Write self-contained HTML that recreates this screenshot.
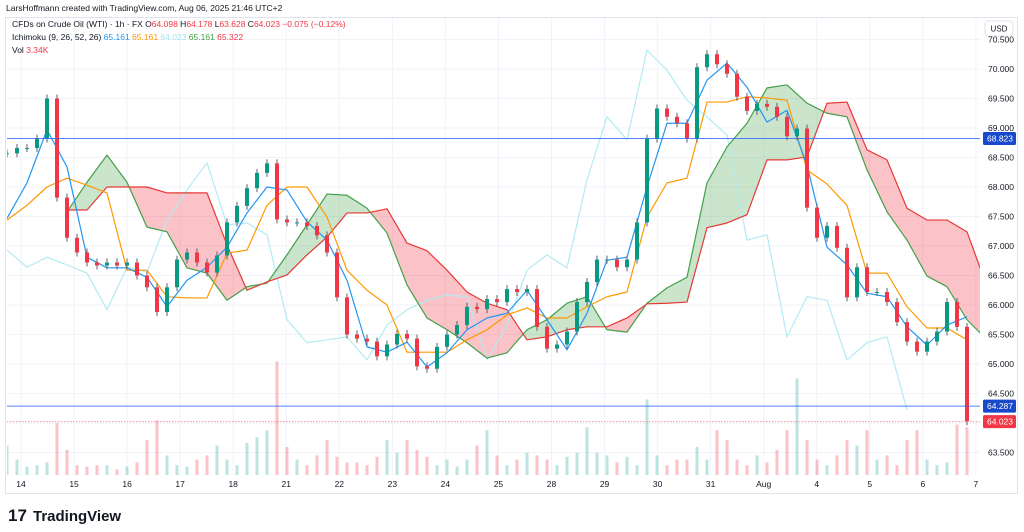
<!DOCTYPE html>
<html><head><meta charset="utf-8"><style>
html,body{margin:0;padding:0;background:#fff;}
svg{display:block;font-family:"Liberation Sans",sans-serif;}
</style></head><body>
<svg id="c" width="1024" height="532" viewBox="0 0 1024 532">
<text x="6" y="11" font-size="8.5" fill="#131722">LarsHoffmann created with TradingView.com, Aug 06, 2025 21:46 UTC+2</text>
<rect x="5.5" y="17.5" width="1012" height="476" fill="none" stroke="#e0e3eb"/>
<g id="grid"></g>
<g id="plot"></g>
<g id="axes"></g>
<g font-size="8.5">
<text x="12" y="27"><tspan fill="#131722">CFDs on Crude Oil (WTI) · 1h · FX  O</tspan><tspan fill="#f23645">64.098 </tspan><tspan fill="#131722">H</tspan><tspan fill="#f23645">64.178 </tspan><tspan fill="#131722">L</tspan><tspan fill="#f23645">63.628 </tspan><tspan fill="#131722">C</tspan><tspan fill="#f23645">64.023  −0.075 (−0.12%)</tspan></text>
<text x="12" y="40"><tspan fill="#131722">Ichimoku (9, 26, 52, 26)  </tspan><tspan fill="#2196f3">65.161  </tspan><tspan fill="#ff9800">65.161  </tspan><tspan fill="#a5e3ef">64.023  </tspan><tspan fill="#43a047">65.161  </tspan><tspan fill="#f23645">65.322</tspan></text>
<text x="12" y="53"><tspan fill="#131722">Vol  </tspan><tspan fill="#f23645">3.34K</tspan></text>
</g>
<rect x="985" y="21" width="28" height="15" rx="3" fill="#fff" stroke="#e0e3eb"/>
<text x="999" y="31.5" font-size="8" text-anchor="middle" fill="#131722">USD</text>
<g>
<text x="8" y="521" font-size="17" font-weight="bold" fill="#131722">17</text>
<text x="33" y="521" font-size="15" font-weight="bold" fill="#131722">TradingView</text>
</g>
</svg>
<script>
// ---- data ----
const closes=[68.57,68.66,68.66,68.82,69.5,67.82,67.14,66.89,66.72,66.67,66.72,66.67,66.72,66.5,66.3,65.88,66.3,66.77,66.89,66.72,66.55,66.84,67.4,67.68,67.98,68.24,68.4,67.45,67.4,67.4,67.34,67.18,66.89,66.13,65.5,65.43,65.38,65.13,65.33,65.51,65.43,64.96,64.92,65.29,65.5,65.66,65.97,65.93,66.1,66.05,66.27,66.22,66.27,65.63,65.26,65.33,65.55,66.05,66.39,66.77,66.77,66.64,66.77,67.4,68.82,69.33,69.19,69.08,68.82,70.03,70.25,70.08,69.92,69.53,69.29,69.41,69.36,69.19,68.86,68.99,67.65,67.14,67.34,66.97,66.13,66.64,66.22,66.22,66.05,65.71,65.38,65.21,65.38,65.55,66.05,65.63,64.03];
const volumes=[2.1,1.1,.6,.7,.9,3.7,1.8,.7,.6,.7,.7,.4,.6,.9,2.5,3.9,1.4,.7,.6,1.1,1.4,2.1,1.1,.7,2.3,2.7,3.2,8.1,2.0,1.1,.7,1.4,2.5,1.3,.9,.9,.7,1.3,2.5,1.6,2.5,1.8,1.3,.7,1.1,.6,1.1,2.1,3.2,1.4,.7,1.1,1.6,1.4,1.1,.7,1.3,1.6,3.4,1.6,1.4,.9,1.3,.7,5.4,1.4,.7,1.1,1.1,2.0,1.1,3.2,2.5,1.1,.7,1.4,.9,1.8,3.2,6.9,2.5,1.1,.7,1.4,2.5,2.1,3.2,1.1,1.4,.7,2.5,3.2,1.1,.7,.9,3.6,3.4];
const tenkan=[67.47,68.07,68.97,68.34,66.81,66.63,66.63,66.47,65.97,66.42,66.64,66.98,67.56,68.0,67.95,67.41,67.1,66.42,65.29,65.2,65.37,64.95,65.19,65.58,65.78,65.86,66.25,65.75,65.24,65.86,66.76,66.81,68.0,69.08,69.08,69.81,70.1,69.69,69.1,69.3,68.37,66.98,66.68,66.2,66.14,65.63,65.32,65.66,65.8];
const kijun=[67.44,67.69,68.0,68.15,68.03,67.9,66.59,66.59,66.14,66.12,66.12,66.88,66.93,67.69,68.0,68.0,67.49,66.59,66.25,66.0,65.2,65.2,65.2,65.41,65.58,65.83,65.95,65.78,65.78,65.97,66.14,66.22,67.49,68.07,68.15,69.44,69.44,69.53,69.51,69.47,68.29,68.05,67.69,66.54,66.54,65.97,65.61,65.61,65.41];
const chikou=[66.93,66.64,66.81,66.68,66.54,65.92,66.64,66.56,67.44,67.95,68.41,67.36,67.39,67.19,65.75,65.36,65.41,65.46,65.07,65.66,65.92,66.08,66.17,66.14,65.07,65.66,66.59,66.85,66.63,68.12,69.19,68.8,70.32,69.98,69.47,69.19,68.88,67.1,67.19,65.46,66.14,66.08,65.07,65.36,65.46,64.22];
const spanA=[67.58,68.08,68.54,68.08,67.32,67.24,66.63,66.54,66.08,66.31,66.37,66.85,67.36,67.88,67.86,67.64,67.22,66.34,65.78,65.58,65.36,65.1,65.19,65.58,65.75,66.03,66.14,65.58,65.54,66.03,66.29,66.47,68.07,68.68,69.08,69.68,69.73,69.42,69.25,69.19,68.29,67.58,67.1,66.49,66.31,65.75,65.41];
const spanB=[67.61,67.61,68.0,68.0,68.0,67.9,67.9,67.9,67.02,66.25,66.39,66.51,66.85,67.15,67.56,67.56,67.63,67.05,66.92,66.59,66.22,66.03,65.92,65.41,65.46,65.58,65.63,65.63,65.78,66.02,66.03,66.05,67.31,67.39,67.53,68.46,68.46,68.51,69.42,69.44,68.63,68.46,67.64,67.44,67.44,67.24,66.31];
const priceTicks=["70.500","70.000","69.500","69.000","68.500","68.000","67.500","67.000","66.500","66.000","65.500","65.000","64.500","64.000","63.500"];
const dateLabels=["14","15","16","17","18","21","22","23","24","25","28","29","30","31","Aug","4","5","6","7"];
const hLines=[{v:68.823,c:"#2962ff"},{v:64.287,c:"#2962ff"},{v:64.023,c:"#f23645"}];

// ---- axes ----
const NS="http://www.w3.org/2000/svg";
const X0=7,XR=980,Y0=18,YB=475;
const yP=p=>69+(70-p)*59;
const xBar=i=>7+i*10;
const xLine=i=>7+i*20;
const xSpan=i=>67+i*20;
const xDate=i=>21+i*53.05;
function mk(tag,attrs,parent){const e=document.createElementNS(NS,tag);for(const k in attrs)e.setAttribute(k,attrs[k]);parent.appendChild(e);return e;}
const grid=document.getElementById('grid'),plot=document.getElementById('plot'),axes=document.getElementById('axes');
const clip=mk('clipPath',{id:'clp'},document.getElementById('c'));
mk('rect',{x:X0,y:Y0,width:XR-X0,height:YB-Y0},clip);
plot.setAttribute('clip-path','url(#clp)');

priceTicks.forEach(t=>{const y=yP(parseFloat(t));
 const g=mk('line',{x1:X0,x2:XR,y1:y,y2:y,stroke:'#f0f3fa'},grid);
 
 
 const l=mk('text',{x:988,y:y+3,'font-size':8.5,fill:'#131722'},axes);l.textContent=t;
 
 });
dateLabels.forEach((t,i)=>{const x=xDate(i);
 const g=mk('line',{x1:x,x2:x,y1:Y0,y2:YB,stroke:'#f0f3fa'},grid);
 
 
 const l=mk('text',{x:x,y:487,'font-size':8.5,fill:'#131722','text-anchor':'middle'},axes);l.textContent=t;
 
 });

volumes.forEach((v,i)=>{const up=i===0||closes[i]>=closes[i-1];const h=v*14;
 const r=mk('rect',{x:xBar(i)-1.5,y:YB-h,width:3,height:h,fill:up?'rgba(38,166,154,0.3)':'rgba(242,54,69,0.3)'},plot);
 
 });

function cloudSeg(i){const x1=xSpan(i),x2=xSpan(i+1),a1=yP(spanA[i]),a2=yP(spanA[i+1]),b1=yP(spanB[i]),b2=yP(spanB[i+1]);
 const d1=a1-b1,d2=a2-b2;const col=d=>d<0?'rgba(67,160,71,0.28)':'rgba(242,54,69,0.3)';
 if(d1*d2>=0){const p=mk('polygon',{points:`${x1},${a1} ${x2},${a2} ${x2},${b2} ${x1},${b1}`,fill:col(d1+d2)},plot);
  
  }
 else{const t=d1/(d1-d2),xm=x1+t*(x2-x1),ym=a1+t*(a2-a1);
  const p1=mk('polygon',{points:`${x1},${a1} ${xm},${ym} ${x1},${b1}`,fill:col(d1)},plot);
  
  
  const p2=mk('polygon',{points:`${xm},${ym} ${x2},${a2} ${x2},${b2}`,fill:col(d2)},plot);
  
  }}
for(let i=0;i<spanA.length-1;i++)cloudSeg(i);

function line(arr,xf,color,name,w){const pts=arr.map((v,i)=>xf(i)+','+yP(v)).join(' ');
 const l=mk('polyline',{points:pts,fill:'none',stroke:color,'stroke-width':w||1.2,'stroke-linejoin':'round'},plot);
 
 }
line(chikou,xLine,'#b2ebf2','chikou-span-line');
line(spanA,xSpan,'#43a047','senkou-span-a-line');
line(spanB,xSpan,'#e53935','senkou-span-b-line');
line(kijun,xLine,'#ff9800','kijun-sen-line');
line(tenkan,xLine,'#2196f3','tenkan-sen-line');

closes.forEach((c,i)=>{const o=i?closes[i-1]:c;const up=c>=o;const col=up?'#089981':'#f23645';
 const yt=yP(Math.max(o,c)),yb=yP(Math.min(o,c));
 const w=mk('line',{x1:xBar(i),x2:xBar(i),y1:yt-4,y2:yb+4,stroke:'#5d606b','stroke-width':1},plot);
 
 
 const b=mk('rect',{x:xBar(i)-2,y:yt,width:4,height:Math.max(1,yb-yt),fill:col},plot);
 
 });

hLines.forEach((h,k)=>{const y=yP(h.v);
 const l=mk('line',{x1:X0,x2:XR,y1:y,y2:y,stroke:h.c,'stroke-width':1,'stroke-dasharray':k===2?'1.5,1.5':'none','stroke-opacity':k===2?0.5:0.8},axes);
 
 
 const r=mk('rect',{x:983,y:y-6.5,width:33,height:13,rx:1.5,fill:k===2?'#f23645':'#1848cc'},axes);
 
 
 const t=mk('text',{x:987,y:y+3,'font-size':8.5,fill:'#fff'},axes);t.textContent=h.v.toFixed(3);
 
 });
</script>
</body></html>
